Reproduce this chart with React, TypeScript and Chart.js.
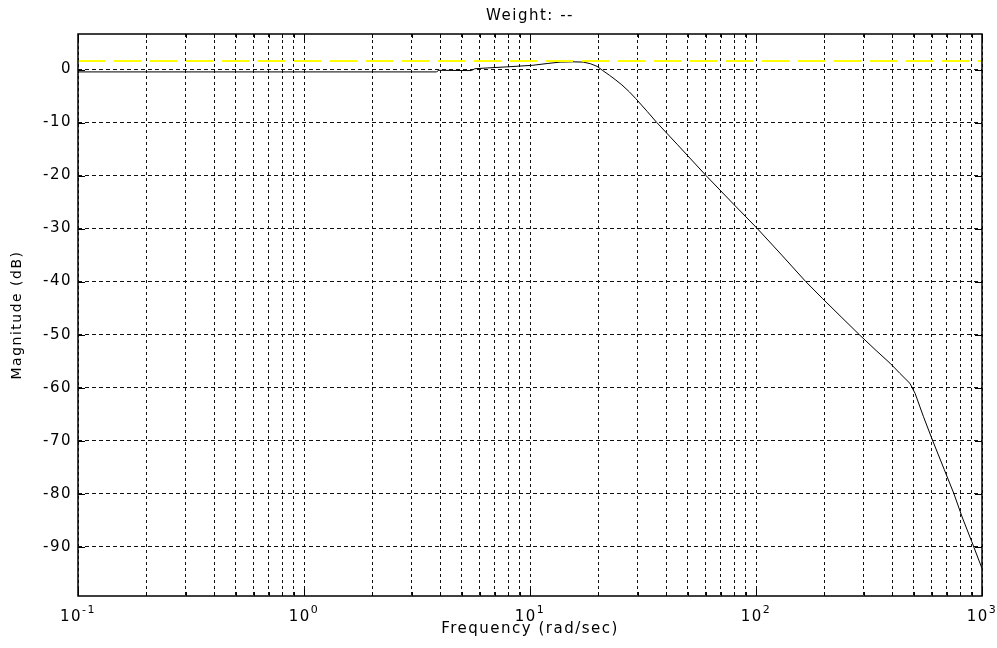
import React, { useEffect, useRef } from 'react';
import { Chart, registerables } from 'chart.js';

Chart.register(...registerables);

// ---- data ----
const freqRadPerSec = [
  0.1, 1, 3.85, 3.95, 5.5, 5.7, 6.5, 7.9, 10.3, 12, 13.6, 15.5, 17.2, 18.5, 19.8,
  21, 22.5, 24, 25.5, 27.5, 29.4, 33, 36.4, 45, 60.1, 80, 101.4, 130, 166, 197, 240,
  288, 340, 392, 433, 480, 506, 550, 605, 680, 751, 820, 900, 1000,
];
const magnitudeDb = [
  -0.45, -0.45, -0.45, -0.15, -0.2, 0.15, 0.3, 0.5, 0.8, 1.15, 1.4, 1.45, 1.4, 1.1, 0.6,
  -0.2, -1.1, -2.0, -2.9, -4.2, -5.5, -7.9, -10, -14.2, -20, -25.5, -30, -35, -40, -43.2, -46.8,
  -50.1, -53, -55.4, -57.3, -59.2, -61.1, -65.4, -70, -75.4, -80, -84.6, -89.0, -94.1,
];
const weightFreq = [0.1, 1000];
const weightDb = [1.62, 1.62];

const xMajorTicks = [0.1, 1, 10, 100, 1000];
const xMajorExponents = ['-1', '0', '1', '2', '3'];
const xMinorMultipliers = [2, 3, 4, 5, 6, 7, 8, 9];
const yTicks = [-90, -80, -70, -60, -50, -40, -30, -20, -10, 0];
const yMin = -99.3;
const yMax = 6.7;

const titleText = 'Weight: --';
const xTitleText = 'Frequency (rad/sec)';
const yTitleText = 'Magnitude (dB)';

const FONT = '"DejaVu Sans", Verdana, sans-serif';
const SPACING = '1.5px';

const xGridValues: number[] = [];
xMajorTicks.forEach((d, i) => {
  xGridValues.push(d);
  if (i < xMajorTicks.length - 1) xMinorMultipliers.forEach((m) => xGridValues.push(+(d * m).toPrecision(6)));
});

const matlabPlugin = {
  id: 'matlabStyle',
  beforeUpdate(chart: any) {
    chart.ctx.letterSpacing = SPACING;
  },
  beforeDraw(chart: any) {
    chart.ctx.letterSpacing = SPACING;
  },
  afterDraw(chart: any) {
    const { ctx, chartArea: a, scales } = chart;
    const xs = scales.x;
    const ys = scales.y;
    ctx.save();
    ctx.setLineDash([]);
    ctx.strokeStyle = '#000';
    ctx.lineWidth = 1;
    // inward tick marks
    ctx.beginPath();
    yTicks.forEach((v) => {
      const py = Math.round(ys.getPixelForValue(v)) + 0.5;
      ctx.moveTo(a.left, py);
      ctx.lineTo(a.left + 7, py);
      ctx.moveTo(a.right, py);
      ctx.lineTo(a.right - 7, py);
    });
    xGridValues.forEach((v) => {
      const major = xMajorTicks.includes(v);
      const len = major ? 7 : 4;
      const px = Math.round(xs.getPixelForValue(v)) + 0.5;
      ctx.moveTo(px, a.bottom);
      ctx.lineTo(px, a.bottom - len);
      ctx.moveTo(px, a.top);
      ctx.lineTo(px, a.top + len);
    });
    ctx.stroke();
    // axes box
    ctx.lineWidth = 1.5;
    ctx.strokeRect(a.left, a.top, a.right - a.left, a.bottom - a.top);
    // x tick labels 10^n
    ctx.fillStyle = '#000';
    ctx.letterSpacing = SPACING;
    ctx.textAlign = 'left';
    ctx.textBaseline = 'alphabetic';
    xMajorTicks.forEach((v, i) => {
      const px = xs.getPixelForValue(v);
      const base = '10';
      const exp = xMajorExponents[i];
      ctx.font = `15px ${FONT}`;
      const wb = ctx.measureText(base).width;
      ctx.font = `11px ${FONT}`;
      const we = ctx.measureText(exp).width;
      const start = px - (wb + we) / 2;
      ctx.font = `15px ${FONT}`;
      ctx.fillText(base, start, a.bottom + 25);
      ctx.font = `11px ${FONT}`;
      ctx.fillText(exp, start + wb, a.bottom + 16.5);
    });
    ctx.restore();
  },
};

export default function App() {
  const ref = useRef<HTMLCanvasElement | null>(null);

  useEffect(() => {
    if (!ref.current) return;
    const chart = new Chart(ref.current, {
      type: 'line',
      data: {
        datasets: [
          {
            label: 'Weight',
            data: weightFreq.map((f, i) => ({ x: f, y: weightDb[i] })),
            borderColor: '#ffff00',
            borderWidth: 2,
            borderDash: [27, 9],
            pointRadius: 0,
            tension: 0,
          },
          {
            label: 'Magnitude',
            data: freqRadPerSec.map((f, i) => ({ x: f, y: magnitudeDb[i] })),
            borderColor: '#000000',
            borderWidth: 1,
            pointRadius: 0,
            tension: 0,
          },
        ],
      },
      options: {
        responsive: false,
        animation: false,
        events: [],
        layout: { padding: { left: 0, right: 15, top: 0, bottom: 0 } },
        plugins: {
          legend: { display: false },
          tooltip: { enabled: false },
          title: {
            display: true,
            text: titleText,
            fullSize: false,
            color: '#000',
            font: { family: FONT, size: 15, weight: 'normal' },
            padding: { top: 7.5, bottom: 8.5 },
          },
        },
        scales: {
          x: {
            type: 'logarithmic',
            min: 0.1,
            max: 1000,
            afterBuildTicks: (scale: any) => {
              scale.ticks = xGridValues.map((v) => ({ value: v }));
            },
            afterFit: (scale: any) => {
              scale.height = 52;
            },
            ticks: { display: false },
            grid: { color: '#111', lineWidth: 1, drawTicks: false },
            border: { display: false, dash: [3, 3] },
            title: {
              display: true,
              text: xTitleText,
              color: '#000',
              font: { family: FONT, size: 15 },
              padding: { top: 0, bottom: 10 },
            },
          },
          y: {
            type: 'linear',
            min: yMin,
            max: yMax,
            afterBuildTicks: (scale: any) => {
              scale.ticks = yTicks.map((v) => ({ value: v }));
            },
            afterFit: (scale: any) => {
              scale.width = 78;
            },
            ticks: {
              color: '#000',
              font: { family: FONT, size: 15 },
              padding: 6,
              autoSkip: false,
              callback: (v: any) => String(v),
            },
            grid: { color: '#111', lineWidth: 1, drawTicks: false },
            border: { display: false, dash: [4, 3] },
            title: {
              display: true,
              text: yTitleText,
              color: '#000',
              font: { family: FONT, size: 14 },
              padding: { top: 9, bottom: 0 },
            },
          },
        },
      },
      plugins: [matlabPlugin],
    } as any);
    return () => chart.destroy();
  }, []);

  return (
    <div style={{ position: 'absolute', left: 0, top: 0, width: 997, height: 648, background: '#fff' }}>
      <canvas ref={ref} width={997} height={648} style={{ display: 'block', width: 997, height: 648 }} />
    </div>
  );
}
